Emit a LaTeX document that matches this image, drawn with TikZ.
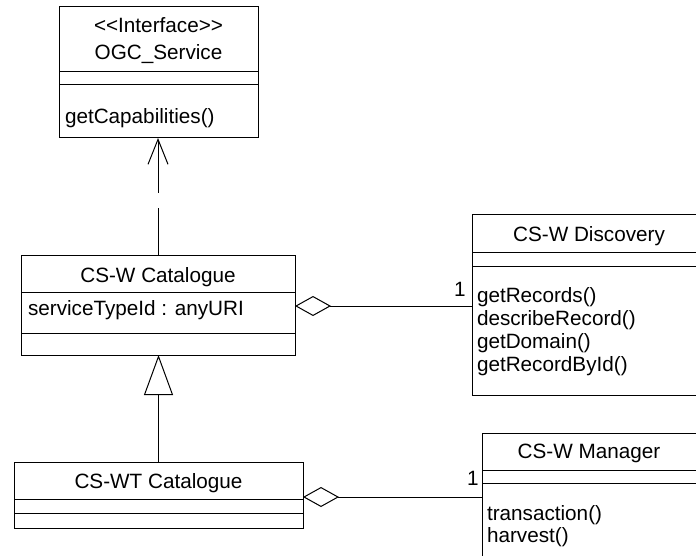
\documentclass[tikz,border=0pt]{standalone}
\usepackage{fontspec}
\setmainfont{Liberation Sans}
\usetikzlibrary{arrows.meta}
\begin{document}
\begin{tikzpicture}[x=1pt,y=-1pt, line width=1pt,
  umlbox/.style={draw, anchor=north west, inner sep=0pt, outer sep=0pt},
  txt/.style={inner sep=0pt, outer sep=0pt, font=\fontsize{20.7}{24}\selectfont},
  lbl/.style={txt, anchor=base west},
  ttl/.style={txt, anchor=base},
  dep/.style={dash pattern=on 47pt off 15pt on 100pt off 1pt, -{Straight Barb[length=25pt,width=20pt]}},
  gen/.style={-{Triangle[open,length=40pt,width=29pt]}},
  agg/.style={{Diamond[open,length=36pt,width=20pt]}-},
]
\clip (0,0) rectangle (696,556);
\fill[white] (0,0) rectangle (696,556);

% boxes
\node[umlbox, minimum width=199pt, minimum height=131pt] (ogc) at (59,7) {};
\node[umlbox, minimum width=274pt, minimum height=100pt] (cat) at (21,255) {};
\node[umlbox, minimum width=289pt, minimum height=66pt] (cswt) at (14,462) {};
\node[umlbox, minimum width=240pt, minimum height=180pt] (disc) at (472,215) {};
\node[umlbox, minimum width=230pt, minimum height=140pt] (mgr) at (482,433) {};

% compartment dividers
\draw (ogc.west |- 0,72) -- (ogc.east |- 0,72);
\draw (ogc.west |- 0,85) -- (ogc.east |- 0,85);
\draw (cat.west |- 0,292) -- (cat.east |- 0,292);
\draw (cat.west |- 0,333) -- (cat.east |- 0,333);
\draw (cswt.west |- 0,499) -- (cswt.east |- 0,499);
\draw (cswt.west |- 0,513) -- (cswt.east |- 0,513);
\draw (disc.west |- 0,252) -- (disc.east |- 0,252);
\draw (disc.west |- 0,266) -- (disc.east |- 0,266);
\draw (mgr.west |- 0,470) -- (mgr.east |- 0,470);
\draw (mgr.west |- 0,483) -- (mgr.east |- 0,483);

% texts
\node[ttl] (ogcst) at (158.5,33) {<{}<Interface>{}>};
\node[ttl] (ogcname) at (158.5,60) {OGC\_Service};
\node[lbl] (ogcm1) at (65,124) {getCapabilities()};

\node[ttl] (catname) at (158,282) {CS-W Catalogue};
\node[lbl] (catattr) at (28,315) {serviceTypeId : anyURI};

\node[ttl] (cswtname) at (158.5,488) {CS-WT Catalogue};

\node[ttl] (discname) at (589,241) {CS-W Discovery};
\node[lbl] (discm1) at (477,302) {getRecords()};
\node[lbl] (discm2) at (477,325) {describeRecord()};
\node[lbl] (discm3) at (477,348) {getDomain()};
\node[lbl] (discm4) at (477,371) {getRecordById()};

\node[ttl] (mgrname) at (589,458) {CS-W Manager};
\node[lbl] (mgrm1) at (487,520) {transaction()};
\node[lbl] (mgrm2) at (487,542) {harvest()};

\node[ttl] (mult1) at (460,296) {1};
\node[ttl] (mult2) at (473,485) {1};

% connectors
\draw[dep] (cat.north) -- (cat.north |- ogc.south);
\draw[gen] (cswt.north) -- (cswt.north |- cat.south);
\draw[agg] (cat.east |- 0,306) -- (disc.west |- 0,306);
\draw[agg] (cswt.east |- 0,497) -- (mgr.west |- 0,497);
\end{tikzpicture}
\end{document}
